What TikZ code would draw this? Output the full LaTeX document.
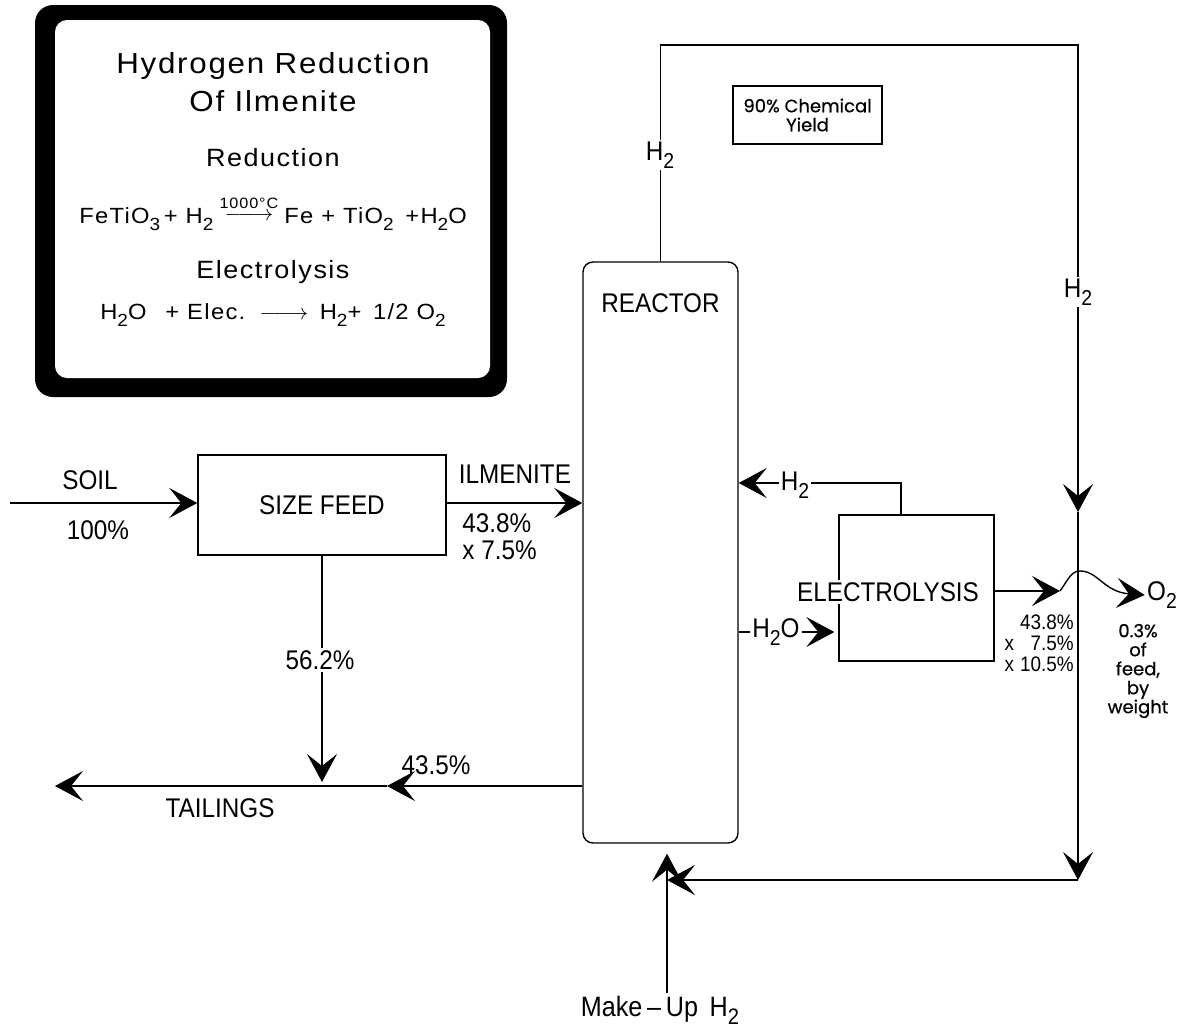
\documentclass[tikz,border=0pt]{standalone}
\usepackage{fontspec}
\setmainfont{Liberation Sans}
\newfontfamily\capsfont{Liberation Sans}[FakeStretch=0.9]
\newfontfamily\framefont{Liberation Sans}[FakeStretch=1.08,LetterSpace=6]
\newfontfamily\notefont{Poppins}[FakeBold=0.6]
\usepackage{graphicx}
\usetikzlibrary{arrows.meta,positioning,calc}
\newcommand{\chemsub}[1]{\raisebox{-0.55ex}{\scalebox{0.8}{#1}}}
\tikzset{
process_box/.style={rectangle, draw, line width=0.7pt, fill=white, font=\capsfont\fontsize{13.5}{13.5}\selectfont},
flow_line/.style={line width=0.7pt, -{Stealth[length=14pt,width=15pt,inset=6pt]}},
stream_label/.style={font=\capsfont\fontsize{13.5}{13.5}\selectfont, inner sep=1pt},
gap_label/.style={stream_label, fill=white},
frame_text/.style={font=\framefont\fontsize{12.5}{15}\selectfont},
eq_text/.style={font=\framefont\fontsize{11}{13}\selectfont},
note_text/.style={font=\notefont\fontsize{9}{9.5}\selectfont, align=center}
}

\begin{document}
\begin{tikzpicture}[x=0.5pt,y=-0.5pt]
    \path[use as bounding box, fill=white] (0,0) rectangle (1187,1033);

    % reaction panel
    \fill[black, rounded corners=9pt] (35,5) rectangle (507,397);
    \fill[white, rounded corners=6pt] (55,20) rectangle (490,378);
    \node[frame_text, font=\framefont\fontsize{14.5}{18}\selectfont] (title_1) at (273,66) {Hydrogen Reduction};
    \node[frame_text, font=\framefont\fontsize{14.5}{18}\selectfont] (title_2) at (273,101) {Of Ilmenite};
    \node[frame_text] (reduction) at (273,158) {Reduction};
    \node[eq_text] (reduction_eq) at (273,213)
        {FeTiO\chemsub{3}\,+ H\chemsub{2}\;\raisebox{0.3ex}{$\stackrel{\mbox{\fontsize{7.5}{7.5}\selectfont 1000°C}}{\relbar\joinrel\longrightarrow}$}\;Fe + TiO\chemsub{2} \,+H\chemsub{2}O};
    \node[frame_text] (electrolysis) at (273,272) {Electrolysis};
    \node[eq_text] (electrolysis_eq) at (273,315)
        {H\chemsub{2}O \enspace+ Elec. \,$\relbar\joinrel\longrightarrow$\, H\chemsub{2}+ \,1/2 O\chemsub{2}};

    % units
    \node[process_box, minimum width=124pt, minimum height=50pt] (sizefeed) at (322,505) {SIZE FEED};
    \node[process_box, rounded corners=5pt, minimum width=77.5pt, minimum height=290.5pt] (reactor) at (660.5,552.5) {};
    \node[stream_label] (reactor_text) [below=15pt of reactor.north] {REACTOR};
    \node[process_box, minimum width=77.5pt, minimum height=73pt] (electro) at (916.5,588) {};
    \node[process_box, note_text, line width=0.6pt, minimum width=74.5pt, minimum height=29pt] (yield) at (807.5,115) {90\% Chemical\\Yield};
    \node[stream_label] (o2) at (1162,595) {O\chemsub{2}};
    \node[stream_label, font=\capsfont\fontsize{14}{14}\selectfont] (makeup) at (660,1010) {Make\,\textendash\,Up\, H\chemsub{2}};

    \coordinate (soil_in) at (10,503);
    \coordinate (tail_mid) at (387,786);
    \coordinate (tail_end) at (55,786);
    \coordinate (loop_top) at (1078,45);
    \coordinate (loop_mid) at (1078,512);
    \coordinate (loop_low) at (1078,880);
    \coordinate (makeup_in) at (667,993);
    \coordinate (recycle_h2) at (901,483);
    \coordinate (water_in) at (738,632);
    \coordinate (hop_start) at (1060,591);

    % streams
    \draw[flow_line] (soil_in) -- (sizefeed.west |- soil_in);
    \draw[flow_line] (sizefeed.east |- soil_in) -- (reactor.west |- soil_in);
    \draw[flow_line] (sizefeed.south) -- ([yshift=2pt]sizefeed.south |- tail_mid);
    \draw[flow_line] (reactor.west |- tail_mid) -- (tail_mid);
    \draw[flow_line] (tail_mid) -- (tail_end);
    \draw[flow_line] (reactor.north) -- (reactor.north |- loop_top) -- (loop_top) -- (loop_mid);
    \draw[flow_line] (loop_mid) -- (loop_low);
    \draw[flow_line] (loop_low) -- (makeup_in |- loop_low);
    \draw[flow_line] (makeup_in) -- ([yshift=-5pt]makeup_in |- reactor.south);
    \draw[flow_line] (electro.north -| recycle_h2) -- (recycle_h2) -- (reactor.east |- recycle_h2);
    \draw[flow_line] (reactor.east |- water_in) -- ([xshift=-2pt]electro.west |- water_in);
    \draw[flow_line] (electro.east |- hop_start) -- (hop_start);
    \draw[flow_line] (hop_start) .. controls (1068,580) and (1071,571) .. (1080,571) .. controls (1098,571) and (1104,592) .. (o2.west);

    % labels
    \node[gap_label] (electro_text) at (888,592) {ELECTROLYSIS};
    \node[stream_label] (soil) at (90,480) {SOIL};
    \node[stream_label] (soil_pct) at (98,530) {100\%};
    \node[stream_label] (ilmenite) at (515,474) {ILMENITE};
    \node[stream_label, anchor=north west, align=left] (ilmenite_pct) at (460,511) {43.8\%\\x 7.5\%};
    \node[gap_label] (fines_pct) at (320,660) {56.2\%};
    \node[stream_label] (reactor_pct) at (436,765) {43.5\%};
    \node[stream_label] (tailings) at (220,808) {TAILINGS};
    \node[gap_label] (h2_top) at (660,155) {H\chemsub{2}};
    \node[gap_label] (h2_right) at (1078,292) {H\chemsub{2}};
    \node[gap_label] (h2_back) at (795,485) {H\chemsub{2}};
    \node[gap_label] (water) at (776,632) {H\chemsub{2}O};
    \node[stream_label, font=\capsfont\fontsize{10.5}{10.5}\selectfont, anchor=north east] (o2_pct) at (1076,612)
        {\begin{tabular}{@{}l@{\hspace{3pt}}r@{}} & 43.8\% \\ x & 7.5\% \\ x & 10.5\% \end{tabular}};
    \node[note_text] (o2_note) at (1138,671) {0.3\%\\of\\feed,\\by\\weight};
\end{tikzpicture}
\end{document}
